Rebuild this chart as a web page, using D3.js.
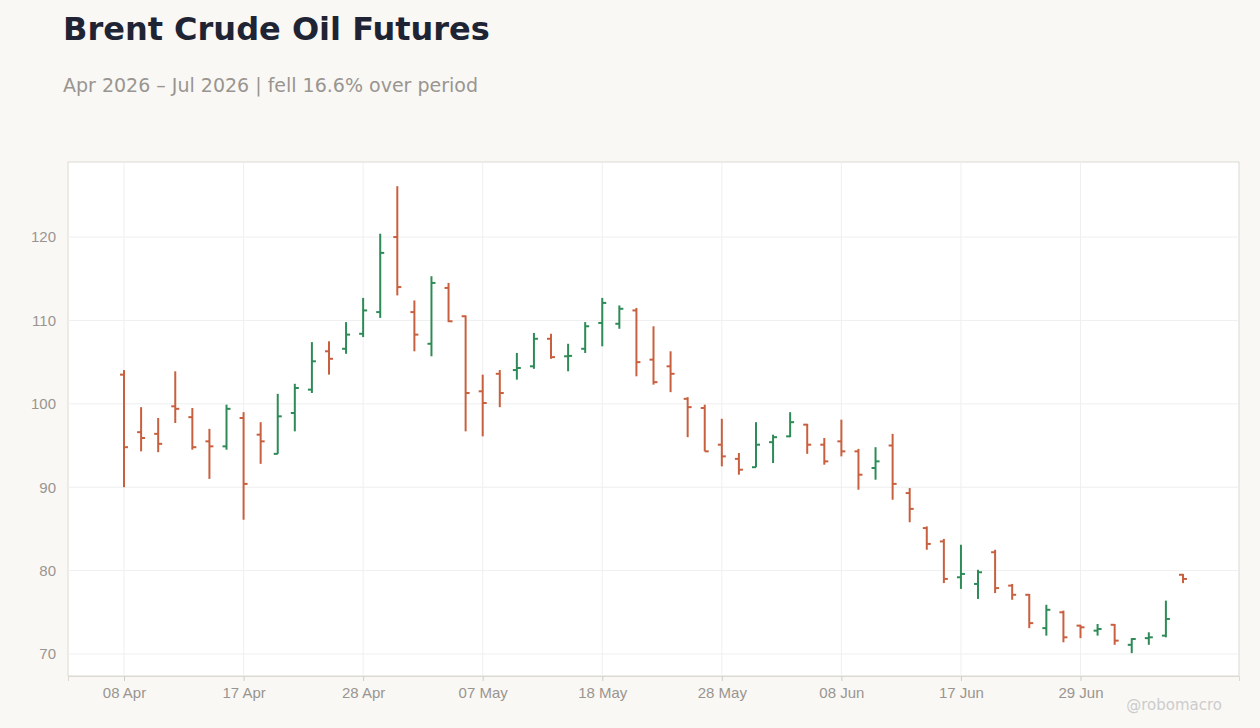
<!DOCTYPE html>
<html>
<head>
<meta charset="utf-8">
<script src="https://cdn.jsdelivr.net/npm/d3@7"></script>
<style>
  body { margin: 0; background: #f9f8f5; font-family: "DejaVu Sans", sans-serif; }
</style>
</head>
<body>
<div id="chart"></div>
<script>
// Trading days (US holidays skipped)
var dates = ["2026-04-08","2026-04-09","2026-04-10","2026-04-13","2026-04-14","2026-04-15","2026-04-16","2026-04-17",
  "2026-04-20","2026-04-21","2026-04-22","2026-04-23","2026-04-24","2026-04-27","2026-04-28","2026-04-29","2026-04-30",
  "2026-05-01","2026-05-04","2026-05-05","2026-05-06","2026-05-07","2026-05-08","2026-05-11","2026-05-12","2026-05-13",
  "2026-05-14","2026-05-15","2026-05-18","2026-05-19","2026-05-20","2026-05-21","2026-05-22","2026-05-26","2026-05-27",
  "2026-05-28","2026-05-29","2026-06-01","2026-06-02","2026-06-03","2026-06-04","2026-06-05","2026-06-08","2026-06-09",
  "2026-06-10","2026-06-11","2026-06-12","2026-06-15","2026-06-16","2026-06-17","2026-06-18","2026-06-22","2026-06-23",
  "2026-06-24","2026-06-25","2026-06-26","2026-06-29","2026-06-30","2026-07-01","2026-07-02","2026-07-06","2026-07-07","2026-07-08"];

var open = [103.5,96.6,96.4,99.7,98.4,95.5,94.9,98.3,96.3,94.0,98.9,101.7,106.3,106.6,108.4,111.0,120.0,111.0,107.2,113.9,110.5,
  101.5,103.6,104.05,104.5,107.8,105.7,106.6,109.7,109.6,111.2,105.3,104.5,100.6,99.5,95.1,93.4,92.4,95.4,96.1,97.5,95.1,95.5,
  94.3,92.3,95.0,89.3,85.1,83.5,79.2,78.4,82.2,78.2,77.1,73.1,75.0,73.4,72.8,73.5,71.1,71.9,72.2,79.5];
var high = [104.05,99.6,98.3,103.9,99.5,97.0,99.9,99.0,97.8,101.2,102.4,107.4,107.5,109.8,112.7,120.4,126.1,112.4,115.3,114.5,110.6,
  103.5,104.05,106.1,108.5,108.4,107.2,109.8,112.7,111.8,111.5,109.3,106.3,100.8,99.9,98.2,94.1,97.8,96.3,99.0,97.6,95.9,98.1,
  94.6,94.8,96.4,89.9,85.3,83.8,83.1,80.1,82.5,78.4,77.2,75.9,75.2,73.5,73.6,73.6,71.9,72.6,76.4,79.6];
var low = [90.0,94.3,94.2,97.7,94.5,91.0,94.5,86.1,92.8,94.0,96.7,101.3,103.5,106.0,108.0,110.3,113.0,106.3,105.7,109.8,96.7,
  96.1,99.6,102.9,104.2,105.4,103.9,106.1,106.9,109.0,103.3,102.3,101.4,96.0,94.3,92.5,91.5,92.4,92.9,96.0,94.0,92.7,93.7,
  89.7,90.9,88.5,85.8,82.5,78.5,77.8,76.6,77.3,76.5,73.1,72.2,71.4,71.9,72.2,71.1,70.1,71.1,72.0,78.5];
var close = [94.8,95.9,95.2,99.4,94.8,94.9,99.4,90.4,95.5,98.5,101.9,105.1,105.4,108.3,111.2,118.1,114.0,108.3,114.5,109.9,101.3,
  100.1,101.3,104.3,107.8,105.6,105.75,109.3,112.1,111.4,105.0,102.6,103.6,99.6,94.3,93.7,92.1,95.1,96.0,97.8,95.1,93.1,94.3,
  91.5,93.1,90.4,87.4,83.2,79.0,79.6,79.8,77.9,77.1,73.7,75.3,72.0,73.2,73.0,71.6,71.8,72.0,74.2,79.0];
var yTicks = [70, 80, 90, 100, 110, 120];

var W = 1260, H = 728;
var m = {left: 68, right: 1239, top: 162, bottom: 676};
var up = "#2e8b57", down = "#c8603f";

var svg = d3.select("#chart").append("svg").attr("width", W).attr("height", H);

var x = d3.scalePoint().domain(d3.range(dates.length)).range([m.left, m.right]).padding(3.28);
var y = d3.scaleLinear().domain([67.36, 129]).range([m.bottom, m.top]);
var fmt = d3.timeFormat("%d %b");
var parse = d3.timeParse("%Y-%m-%d");

// Titles
svg.append("text").attr("x", 63).attr("y", 40).attr("fill", "#1e2433")
  .style("font-size", "32px").style("font-weight", "bold").text("Brent Crude Oil Futures");
svg.append("text").attr("x", 63).attr("y", 92).attr("fill", "#999590")
  .style("font-size", "19px").text("Apr 2026 \u2013 Jul 2026 | fell 16.6% over period");

// Plot background
svg.append("rect").attr("x", m.left).attr("y", m.top)
  .attr("width", m.right - m.left).attr("height", m.bottom - m.top)
  .attr("fill", "#fff").attr("stroke", "#ddd9d3");

var xTickIdx = d3.range(0, dates.length, 7);

// Grid
svg.append("g").selectAll("line").data(yTicks).join("line")
  .attr("x1", m.left).attr("x2", m.right).attr("y1", d => y(d)).attr("y2", d => y(d))
  .attr("stroke", "#efefef");
svg.append("g").selectAll("line").data(xTickIdx).join("line")
  .attr("x1", d => x(d)).attr("x2", d => x(d)).attr("y1", m.top).attr("y2", m.bottom)
  .attr("stroke", "#efefef");

// Axes
var yAxis = svg.append("g").attr("transform", "translate(" + m.left + ",0)")
  .call(d3.axisLeft(y).tickValues(yTicks).tickSize(0).tickPadding(12));
yAxis.select(".domain").remove();
yAxis.selectAll("text").attr("fill", "#999590").style("font-size", "15px");

var xAxis = svg.append("g").attr("transform", "translate(0," + m.bottom + ")")
  .call(d3.axisBottom(x).tickValues(xTickIdx).tickFormat(i => fmt(parse(dates[i]))).tickSize(5).tickPadding(6));
xAxis.select(".domain").attr("stroke", "#ddd9d3");
xAxis.selectAll(".tick line").attr("stroke", "#ccc");
xAxis.selectAll("text").attr("fill", "#999590").style("font-size", "15px");

// OHLC bars
var bars = svg.append("g").selectAll("g").data(d3.range(dates.length)).join("g")
  .attr("stroke", i => close[i] >= open[i] ? up : down).attr("stroke-width", 2);
bars.append("line").attr("x1", i => x(i)).attr("x2", i => x(i))
  .attr("y1", i => y(high[i])).attr("y2", i => y(low[i]));
bars.append("line").attr("x1", i => x(i) - 4).attr("x2", i => x(i))
  .attr("y1", i => y(open[i])).attr("y2", i => y(open[i]));
bars.append("line").attr("x1", i => x(i)).attr("x2", i => x(i) + 4)
  .attr("y1", i => y(close[i])).attr("y2", i => y(close[i]));

svg.append("text").attr("x", 1222).attr("y", 710).attr("text-anchor", "end")
  .attr("fill", "#ccc").style("font-size", "15px").text("@robomacro");
</script>
</body>
</html>
